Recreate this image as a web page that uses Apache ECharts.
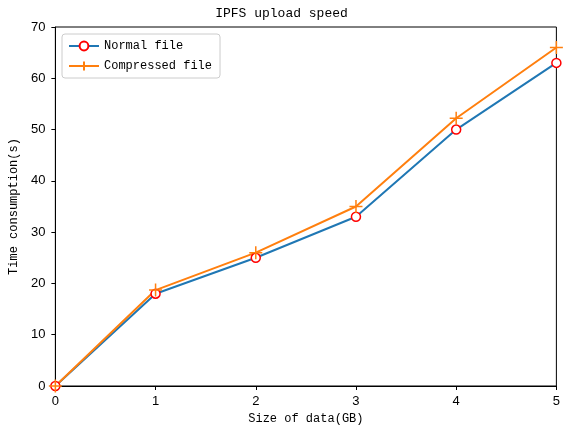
<!DOCTYPE html>
<html>
<head>
<meta charset="utf-8">
<script src="https://cdn.jsdelivr.net/npm/echarts@6/dist/echarts.min.js"></script>
<style>
  html, body { margin: 0; padding: 0; background: #fff; overflow: hidden; }
  #chart { width: 100vw; height: 100vh; }
</style>
</head>
<body>
<div id="chart"></div>
<script>
var sizes = [0, 1, 2, 3, 4, 5];
var normalFile = [0, 18, 25, 33, 50, 63];
var compressedFile = [0, 18.7, 26, 35, 52.2, 66];

var font = 'Liberation Mono, DejaVu Sans Mono, monospace';
var numFont = 'Liberation Sans Narrow, Liberation Sans, sans-serif';
var plusIcon = 'path://M0,5L10,5M5,0L5,10';

function pairs(xs, ys) {
    return xs.map(function (x, i) { return [x, ys[i]]; });
}

var myChart = echarts.init(document.getElementById('chart'));
var option = {
    animation: false,
    title: {
        text: 'IPFS upload speed',
        left: 'center',
        top: 2,
        textStyle: { fontFamily: font, fontSize: 13, fontWeight: 'normal', color: '#000' }
    },
    legend: {
        orient: 'vertical',
        left: 62,
        top: 34,
        padding: [6, 8, 6, 6],
        itemGap: 8,
        itemWidth: 30,
        itemHeight: 11,
        borderColor: '#ccc',
        borderWidth: 1,
        borderRadius: 3,
        textStyle: { fontFamily: font, fontSize: 12, color: '#000' },
        data: ['Normal file', 'Compressed file']
    },
    grid: {
        left: 54,
        right: 1,
        top: 27,
        bottom: 45,
        show: true,
        borderColor: '#000',
        borderWidth: 1
    },
    xAxis: {
        type: 'value',
        min: 0,
        max: 5,
        interval: 1,
        name: 'Size of data(GB)',
        nameLocation: 'middle',
        nameGap: 24,
        nameTextStyle: { fontFamily: font, fontSize: 12, color: '#000' },
        axisLine: { lineStyle: { color: '#000' } },
        axisTick: { length: 4, lineStyle: { color: '#000' } },
        axisLabel: { fontFamily: numFont, fontSize: 13, color: '#000', margin: 9 },
        splitLine: { show: false }
    },
    yAxis: {
        type: 'value',
        min: 0,
        max: 70,
        interval: 10,
        name: 'Time consumption(s)',
        nameLocation: 'middle',
        nameGap: 34,
        nameTextStyle: { fontFamily: font, fontSize: 12, color: '#000' },
        axisLine: { show: true, lineStyle: { color: '#000' } },
        axisTick: { show: true, length: 4, lineStyle: { color: '#000' } },
        axisLabel: { fontFamily: numFont, fontSize: 13, color: '#000', margin: 10 },
        splitLine: { show: false }
    },
    series: [
        {
            name: 'Normal file',
            type: 'line',
            data: pairs(sizes, normalFile),
            symbol: 'circle',
            symbolSize: 9,
            showAllSymbol: true,
            lineStyle: { color: '#1f77b4', width: 2 },
            itemStyle: { color: '#fff', borderColor: 'red', borderWidth: 1.5 }
        },
        {
            name: 'Compressed file',
            type: 'line',
            data: pairs(sizes, compressedFile),
            symbol: plusIcon,
            symbolSize: 13,
            showAllSymbol: true,
            lineStyle: { color: '#ff7f0e', width: 2 },
            itemStyle: { color: '#ff7f0e', borderColor: '#ff7f0e', borderWidth: 1.5 }
        }
    ]
};
myChart.setOption(option);
</script>
</body>
</html>
